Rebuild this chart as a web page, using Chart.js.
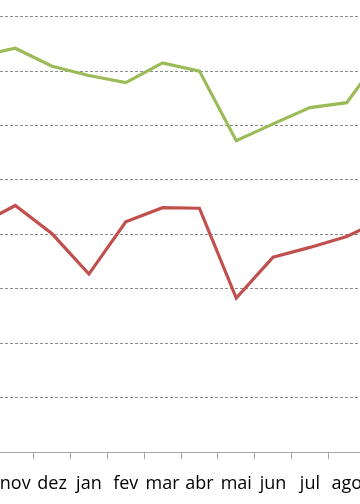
<!DOCTYPE html>
<html>
<head>
<meta charset="utf-8">
<script src="https://cdn.jsdelivr.net/npm/chart.js@4.4.1/dist/chart.umd.min.js"></script>
<style>
  html, body { margin: 0; padding: 0; background: #fff; overflow: hidden; width: 360px; height: 504px; }
  #grafico { position: absolute; left: -40px; top: 0; }
</style>
</head>
<body>
<canvas id="grafico" width="442" height="504"></canvas>
<script>
// --- dados (recortado: out e set ficam fora da janela) ---
const meses = ['out', 'nov', 'dez', 'jan', 'fev', 'mar', 'abr', 'mai', 'jun', 'jul', 'ago', 'set'];
const serieVerde = [72.7, 74.2, 70.9, 69.2, 67.9, 71.5, 70.0, 57.2, 60.3, 63.3, 64.2, 73.4];
const serieVermelha = [41.7, 45.3, 40.1, 32.7, 42.3, 44.9, 44.8, 28.3, 35.8, 37.6, 39.6, 42.8];
const eixoMin = 0;
const eixoMax = 83.07;
const eixoPasso = 10;

const ctx = document.getElementById('grafico').getContext('2d');
new Chart(ctx, {
    type: 'line',
    data: {
        labels: meses,
        datasets: [{
            data: serieVerde,
            borderColor: '#9BBB59',
            borderWidth: 3.2,
            pointRadius: 0,
            tension: 0
        }, {
            data: serieVermelha,
            borderColor: '#C0504D',
            borderWidth: 3.2,
            pointRadius: 0,
            tension: 0
        }]
    },
    options: {
        responsive: false,
        animation: false,
        layout: { padding: 0 },
        plugins: { legend: { display: false }, tooltip: { enabled: false } },
        scales: {
            x: {
                offset: true,
                border: { color: '#a6a6a6', width: 1 },
                grid: { offset: true, drawOnChartArea: false, drawTicks: true, tickLength: 7, color: '#a6a6a6' },
                ticks: {
                    autoSkip: false, maxRotation: 0, padding: 14,
                    color: '#000',
                    font: { family: 'Open Sans', size: 18 },
                    // os meses das pontas ficam fora do recorte
                    callback: (v, i) => (i === 0 || i === meses.length - 1) ? '' : meses[i]
                },
                afterFit: s => { s.height = 52; }
            },
            y: {
                min: eixoMin,
                max: eixoMax,
                ticks: { display: false, stepSize: eixoPasso },
                grid: {
                    drawTicks: false,
                    color: c => (c.tick && c.tick.value > 0 && c.tick.value % eixoPasso === 0) ? '#8c8c8c' : 'rgba(0,0,0,0)',
                    lineWidth: 1
                },
                border: { display: false, dash: [3, 2] },
                afterFit: s => { s.width = 0; }
            }
        }
    }
});
</script>
</body>
</html>
